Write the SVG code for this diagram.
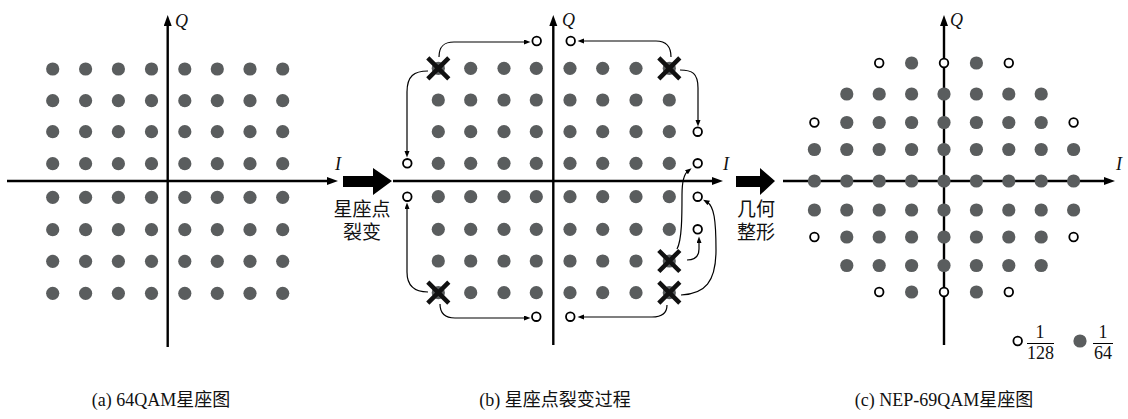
<svg xmlns="http://www.w3.org/2000/svg" width="1128" height="419" viewBox="0 0 1128 419">
<style>
.ax{stroke:#000;stroke-width:2.4;fill:none}
.d{fill:#5a5d5e}
.h{fill:#fff;stroke:#000;stroke-width:1.8}
.x{stroke:#111;stroke-width:4.5;stroke-linecap:butt}
.c{stroke:#000;stroke-width:1.2;fill:none}
.t{font-family:"Liberation Serif","Noto Sans CJK SC",serif;fill:#111}
.it{font-family:"Liberation Serif",serif;font-style:italic;font-size:18px;fill:#111}
.big{fill:#000}
</style>
<defs>
<marker id="ah" markerUnits="userSpaceOnUse" markerWidth="12" markerHeight="9" refX="4" refY="4" orient="auto">
<path d="M0,0 L11,4 L0,8 z" fill="#000"/>
</marker>
<marker id="sh" markerUnits="userSpaceOnUse" markerWidth="7" markerHeight="6" refX="2" refY="2.5" orient="auto">
<path d="M0,0 L6.5,2.5 L0,5 z" fill="#000"/>
</marker>
</defs>

<!-- Panel (a) -->
<g id="panel-a">
<line class="ax" x1="7" y1="181" x2="331" y2="181" marker-end="url(#ah)"/>
<line class="ax" x1="167.7" y1="347" x2="167.7" y2="22" marker-end="url(#ah)"/>
<text class="it" x="175" y="27">Q</text>
<text class="it" x="335" y="170">I</text>
<g class="d">
<circle cx="52.7" cy="69" r="6.6"/><circle cx="85.6" cy="69" r="6.6"/><circle cx="118.4" cy="69" r="6.6"/><circle cx="151.5" cy="69" r="6.6"/><circle cx="184.8" cy="69" r="6.6"/><circle cx="217.3" cy="69" r="6.6"/><circle cx="250" cy="69" r="6.6"/><circle cx="282.7" cy="69" r="6.6"/>
<circle cx="52.7" cy="100.7" r="6.6"/><circle cx="85.6" cy="100.7" r="6.6"/><circle cx="118.4" cy="100.7" r="6.6"/><circle cx="151.5" cy="100.7" r="6.6"/><circle cx="184.8" cy="100.7" r="6.6"/><circle cx="217.3" cy="100.7" r="6.6"/><circle cx="250" cy="100.7" r="6.6"/><circle cx="282.7" cy="100.7" r="6.6"/>
<circle cx="52.7" cy="131.7" r="6.6"/><circle cx="85.6" cy="131.7" r="6.6"/><circle cx="118.4" cy="131.7" r="6.6"/><circle cx="151.5" cy="131.7" r="6.6"/><circle cx="184.8" cy="131.7" r="6.6"/><circle cx="217.3" cy="131.7" r="6.6"/><circle cx="250" cy="131.7" r="6.6"/><circle cx="282.7" cy="131.7" r="6.6"/>
<circle cx="52.7" cy="163.7" r="6.6"/><circle cx="85.6" cy="163.7" r="6.6"/><circle cx="118.4" cy="163.7" r="6.6"/><circle cx="151.5" cy="163.7" r="6.6"/><circle cx="184.8" cy="163.7" r="6.6"/><circle cx="217.3" cy="163.7" r="6.6"/><circle cx="250" cy="163.7" r="6.6"/><circle cx="282.7" cy="163.7" r="6.6"/>
<circle cx="52.7" cy="197.3" r="6.6"/><circle cx="85.6" cy="197.3" r="6.6"/><circle cx="118.4" cy="197.3" r="6.6"/><circle cx="151.5" cy="197.3" r="6.6"/><circle cx="184.8" cy="197.3" r="6.6"/><circle cx="217.3" cy="197.3" r="6.6"/><circle cx="250" cy="197.3" r="6.6"/><circle cx="282.7" cy="197.3" r="6.6"/>
<circle cx="52.7" cy="229.7" r="6.6"/><circle cx="85.6" cy="229.7" r="6.6"/><circle cx="118.4" cy="229.7" r="6.6"/><circle cx="151.5" cy="229.7" r="6.6"/><circle cx="184.8" cy="229.7" r="6.6"/><circle cx="217.3" cy="229.7" r="6.6"/><circle cx="250" cy="229.7" r="6.6"/><circle cx="282.7" cy="229.7" r="6.6"/>
<circle cx="52.7" cy="261.3" r="6.6"/><circle cx="85.6" cy="261.3" r="6.6"/><circle cx="118.4" cy="261.3" r="6.6"/><circle cx="151.5" cy="261.3" r="6.6"/><circle cx="184.8" cy="261.3" r="6.6"/><circle cx="217.3" cy="261.3" r="6.6"/><circle cx="250" cy="261.3" r="6.6"/><circle cx="282.7" cy="261.3" r="6.6"/>
<circle cx="52.7" cy="293.3" r="6.6"/><circle cx="85.6" cy="293.3" r="6.6"/><circle cx="118.4" cy="293.3" r="6.6"/><circle cx="151.5" cy="293.3" r="6.6"/><circle cx="184.8" cy="293.3" r="6.6"/><circle cx="217.3" cy="293.3" r="6.6"/><circle cx="250" cy="293.3" r="6.6"/><circle cx="282.7" cy="293.3" r="6.6"/>
</g>
<text class="t" x="161" y="406" font-size="18" text-anchor="middle">(a) 64QAM星座图</text>
</g>

<!-- Transition arrow 1 -->
<g id="step-split">
<path class="big" d="M343,176 L373,176 L373,168 L392,181 L373,195 L373,187 L343,187 z"/>
<text class="t" x="362" y="216" font-size="19" text-anchor="middle">星座点</text>
<text class="t" x="362" y="239" font-size="19" text-anchor="middle">裂变</text>
</g>

<!-- Panel (b) -->
<g id="panel-b">
<line class="ax" x1="393" y1="181" x2="716" y2="181" marker-end="url(#ah)"/>
<line class="ax" x1="553.3" y1="345" x2="553.3" y2="22" marker-end="url(#ah)"/>
<text class="it" x="562" y="26">Q</text>
<text class="it" x="723" y="170">I</text>
<g class="d">
<circle cx="438.3" cy="68.3" r="6.6"/><circle cx="470.7" cy="68.3" r="6.6"/><circle cx="504" cy="68.3" r="6.6"/><circle cx="536.3" cy="68.3" r="6.6"/><circle cx="570" cy="68.3" r="6.6"/><circle cx="602.7" cy="68.3" r="6.6"/><circle cx="636" cy="68.3" r="6.6"/><circle cx="669.3" cy="68.3" r="6.6"/>
<circle cx="438.3" cy="100" r="6.6"/><circle cx="470.7" cy="100" r="6.6"/><circle cx="504" cy="100" r="6.6"/><circle cx="536.3" cy="100" r="6.6"/><circle cx="570" cy="100" r="6.6"/><circle cx="602.7" cy="100" r="6.6"/><circle cx="636" cy="100" r="6.6"/><circle cx="669.3" cy="100" r="6.6"/>
<circle cx="438.3" cy="131.7" r="6.6"/><circle cx="470.7" cy="131.7" r="6.6"/><circle cx="504" cy="131.7" r="6.6"/><circle cx="536.3" cy="131.7" r="6.6"/><circle cx="570" cy="131.7" r="6.6"/><circle cx="602.7" cy="131.7" r="6.6"/><circle cx="636" cy="131.7" r="6.6"/><circle cx="669.3" cy="131.7" r="6.6"/>
<circle cx="438.3" cy="163.3" r="6.6"/><circle cx="470.7" cy="163.3" r="6.6"/><circle cx="504" cy="163.3" r="6.6"/><circle cx="536.3" cy="163.3" r="6.6"/><circle cx="570" cy="163.3" r="6.6"/><circle cx="602.7" cy="163.3" r="6.6"/><circle cx="636" cy="163.3" r="6.6"/><circle cx="669.3" cy="163.3" r="6.6"/>
<circle cx="438.3" cy="196.7" r="6.6"/><circle cx="470.7" cy="196.7" r="6.6"/><circle cx="504" cy="196.7" r="6.6"/><circle cx="536.3" cy="196.7" r="6.6"/><circle cx="570" cy="196.7" r="6.6"/><circle cx="602.7" cy="196.7" r="6.6"/><circle cx="636" cy="196.7" r="6.6"/><circle cx="669.3" cy="196.7" r="6.6"/>
<circle cx="438.3" cy="229.3" r="6.6"/><circle cx="470.7" cy="229.3" r="6.6"/><circle cx="504" cy="229.3" r="6.6"/><circle cx="536.3" cy="229.3" r="6.6"/><circle cx="570" cy="229.3" r="6.6"/><circle cx="602.7" cy="229.3" r="6.6"/><circle cx="636" cy="229.3" r="6.6"/><circle cx="669.3" cy="229.3" r="6.6"/>
<circle cx="438.3" cy="261" r="6.6"/><circle cx="470.7" cy="261" r="6.6"/><circle cx="504" cy="261" r="6.6"/><circle cx="536.3" cy="261" r="6.6"/><circle cx="570" cy="261" r="6.6"/><circle cx="602.7" cy="261" r="6.6"/><circle cx="636" cy="261" r="6.6"/><circle cx="669.3" cy="261" r="6.6"/>
<circle cx="438.3" cy="292.7" r="6.6"/><circle cx="470.7" cy="292.7" r="6.6"/><circle cx="504" cy="292.7" r="6.6"/><circle cx="536.3" cy="292.7" r="6.6"/><circle cx="570" cy="292.7" r="6.6"/><circle cx="602.7" cy="292.7" r="6.6"/><circle cx="636" cy="292.7" r="6.6"/><circle cx="669.3" cy="292.7" r="6.6"/>
</g>
<g class="h">
<circle cx="536.7" cy="41" r="4.3"/><circle cx="570.7" cy="41" r="4.3"/>
<circle cx="407.3" cy="163.3" r="4.3"/><circle cx="407.3" cy="196.7" r="4.3"/>
<circle cx="697.7" cy="131.7" r="4.3"/><circle cx="697.7" cy="163.3" r="4.3"/><circle cx="697.7" cy="196.7" r="4.3"/><circle cx="697.7" cy="229.3" r="4.3"/>
<circle cx="536.3" cy="316.7" r="4.3"/><circle cx="570.3" cy="316.7" r="4.3"/>
</g>
<g class="x">
<path d="M427.8,57.8 L448.8,78.8 M448.8,57.8 L427.8,78.8"/>
<path d="M658.8,57.8 L679.8,78.8 M679.8,57.8 L658.8,78.8"/>
<path d="M427.8,282.2 L448.8,303.2 M448.8,282.2 L427.8,303.2"/>
<path d="M658.8,250.5 L679.8,271.5 M679.8,250.5 L658.8,271.5"/>
<path d="M658.8,282.2 L679.8,303.2 M679.8,282.2 L658.8,303.2"/>
</g>
<text class="t" x="555" y="406" font-size="18" text-anchor="middle">(b) 星座点裂变过程</text>
</g>

<!-- Split connectors -->
<g id="connectors">
<path class="c" marker-end="url(#sh)" d="M439,57 C439,46 444,42 454,42 L526,42"/>
<path class="c" marker-end="url(#sh)" d="M428,71 C414,71 407,76 407,92 L407,153"/>
<path class="c" marker-end="url(#sh)" d="M671,57 C671,46 666,41 656,41 L582,41"/>
<path class="c" marker-end="url(#sh)" d="M680,70 C692,70 698,73 698,88 L698,122"/>
<path class="c" marker-end="url(#sh)" d="M428,292 C414,292 407,286 407,272 L407,207"/>
<path class="c" marker-end="url(#sh)" d="M440,304 C440,313 445,318 455,318 L526,318"/>
<path class="c" marker-end="url(#sh)" d="M667,305 C667,313 662,317 652,317 L582,317"/>
<path class="c" marker-end="url(#sh)" d="M681,295 C705,294 716,282 716,250 C716,220 714,206 707,202"/>
<path class="c" marker-end="url(#sh)" d="M687,260 C695,260 699,257 699,249 L699,241"/>
<path class="c" marker-end="url(#sh)" d="M677,249 C682,240 682,215 682,195 C682,181 684,174 688,171"/>
</g>

<!-- Transition arrow 2 -->
<g id="step-shape">
<path class="big" d="M736,176 L760,176 L760,168 L775,181 L760,195 L760,187 L736,187 z"/>
<text class="t" x="756" y="216" font-size="19" text-anchor="middle">几何</text>
<text class="t" x="756" y="239" font-size="19" text-anchor="middle">整形</text>
</g>

<!-- Panel (c) -->
<g id="panel-c">
<line class="ax" x1="783" y1="181" x2="1108" y2="181" marker-end="url(#ah)"/>
<line class="ax" x1="944" y1="345" x2="944" y2="22" marker-end="url(#ah)"/>
<text class="it" x="950" y="26">Q</text>
<text class="it" x="1116" y="170">I</text>
<g class="d">
<circle cx="911.6" cy="63" r="6.6"/><circle cx="976.4" cy="63" r="6.6"/>
<circle cx="846.8" cy="94" r="6.6"/><circle cx="879.2" cy="94" r="6.6"/><circle cx="911.6" cy="94" r="6.6"/><circle cx="944" cy="94" r="6.6"/><circle cx="976.4" cy="94" r="6.6"/><circle cx="1008.8" cy="94" r="6.6"/><circle cx="1041.2" cy="94" r="6.6"/>
<circle cx="846.8" cy="122.5" r="6.6"/><circle cx="879.2" cy="122.5" r="6.6"/><circle cx="911.6" cy="122.5" r="6.6"/><circle cx="944" cy="122.5" r="6.6"/><circle cx="976.4" cy="122.5" r="6.6"/><circle cx="1008.8" cy="122.5" r="6.6"/><circle cx="1041.2" cy="122.5" r="6.6"/>
<circle cx="814.4" cy="149.5" r="6.6"/><circle cx="846.8" cy="149.5" r="6.6"/><circle cx="879.2" cy="149.5" r="6.6"/><circle cx="911.6" cy="149.5" r="6.6"/><circle cx="944" cy="149.5" r="6.6"/><circle cx="976.4" cy="149.5" r="6.6"/><circle cx="1008.8" cy="149.5" r="6.6"/><circle cx="1041.2" cy="149.5" r="6.6"/><circle cx="1073.6" cy="149.5" r="6.6"/>
<circle cx="814.4" cy="181" r="6.6"/><circle cx="846.8" cy="181" r="6.6"/><circle cx="879.2" cy="181" r="6.6"/><circle cx="911.6" cy="181" r="6.6"/><circle cx="944" cy="181" r="6.6"/><circle cx="976.4" cy="181" r="6.6"/><circle cx="1008.8" cy="181" r="6.6"/><circle cx="1041.2" cy="181" r="6.6"/><circle cx="1073.6" cy="181" r="6.6"/>
<circle cx="814.4" cy="210" r="6.6"/><circle cx="846.8" cy="210" r="6.6"/><circle cx="879.2" cy="210" r="6.6"/><circle cx="911.6" cy="210" r="6.6"/><circle cx="944" cy="210" r="6.6"/><circle cx="976.4" cy="210" r="6.6"/><circle cx="1008.8" cy="210" r="6.6"/><circle cx="1041.2" cy="210" r="6.6"/><circle cx="1073.6" cy="210" r="6.6"/>
<circle cx="846.8" cy="237" r="6.6"/><circle cx="879.2" cy="237" r="6.6"/><circle cx="911.6" cy="237" r="6.6"/><circle cx="944" cy="237" r="6.6"/><circle cx="976.4" cy="237" r="6.6"/><circle cx="1008.8" cy="237" r="6.6"/><circle cx="1041.2" cy="237" r="6.6"/>
<circle cx="846.8" cy="265.5" r="6.6"/><circle cx="879.2" cy="265.5" r="6.6"/><circle cx="911.6" cy="265.5" r="6.6"/><circle cx="944" cy="265.5" r="6.6"/><circle cx="976.4" cy="265.5" r="6.6"/><circle cx="1008.8" cy="265.5" r="6.6"/><circle cx="1041.2" cy="265.5" r="6.6"/>
<circle cx="911.6" cy="292" r="6.6"/><circle cx="976.4" cy="292" r="6.6"/>
</g>
<g class="h">
<circle cx="879.2" cy="63" r="4.3"/><circle cx="944" cy="63" r="4.3"/><circle cx="1008.8" cy="63" r="4.3"/>
<circle cx="814.4" cy="122.5" r="4.3"/><circle cx="1073.6" cy="122.5" r="4.3"/>
<circle cx="814.4" cy="237" r="4.3"/><circle cx="1073.6" cy="237" r="4.3"/>
<circle cx="879.2" cy="292" r="4.3"/><circle cx="944" cy="292" r="4.3"/><circle cx="1008.8" cy="292" r="4.3"/>
</g>
<text class="t" x="944" y="406" font-size="18" text-anchor="middle">(c) NEP-69QAM星座图</text>
</g>

<!-- Legend -->
<g id="legend">
<circle class="h" cx="1017.7" cy="341" r="4.3"/>
<text class="t" x="1040" y="338" font-size="18" text-anchor="middle">1</text>
<line x1="1027" y1="343.5" x2="1054" y2="343.5" stroke="#000" stroke-width="1"/>
<text class="t" x="1040.5" y="359" font-size="18" text-anchor="middle">128</text>
<circle class="d" cx="1080" cy="341" r="6.6"/>
<text class="t" x="1103" y="338" font-size="18" text-anchor="middle">1</text>
<line x1="1093" y1="343.5" x2="1113" y2="343.5" stroke="#000" stroke-width="1"/>
<text class="t" x="1103" y="359" font-size="18" text-anchor="middle">64</text>
</g>
</svg>
